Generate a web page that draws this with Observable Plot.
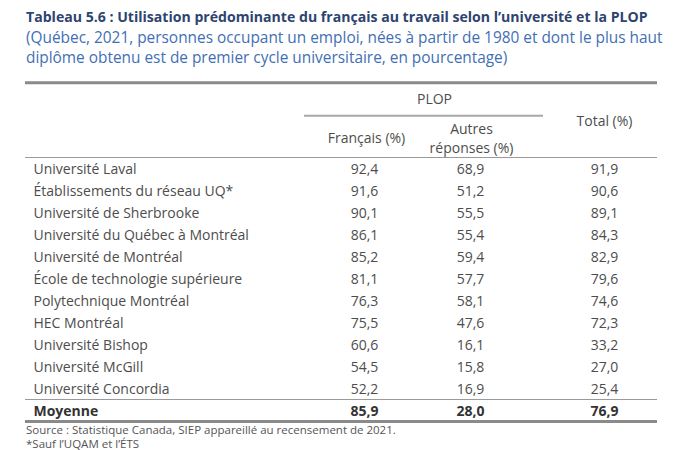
<!DOCTYPE html>
<html>
<head>
<meta charset="utf-8">
<script src="https://cdn.jsdelivr.net/npm/d3@7"></script>
<script src="https://cdn.jsdelivr.net/npm/@observablehq/plot@0.6"></script>
<style>
  html, body { margin: 0; padding: 0; background: #fff; width: 700px; height: 450px; overflow: hidden; position: relative; }
  #title { position: absolute; left: 26px; top: 7px; font: 700 14.1px "Open Sans", sans-serif; line-height: 20px; color: #2e4470; white-space: nowrap; }
  #subtitle { position: absolute; left: 26px; top: 28px; font: 400 15.4px "Open Sans", sans-serif; line-height: 20px; color: #3f6fb4; white-space: nowrap; }
  #chart { position: absolute; left: 0; top: 70px; }
  .cap { position: absolute; left: 26px; font: 400 11.5px "Open Sans", sans-serif; line-height: 14px; color: #555; white-space: nowrap; }
  #source { top: 423px; }
  #note { top: 437px; }
</style>
</head>
<body>
<div id="title"></div>
<div id="subtitle"></div>
<div id="chart"></div>
<div id="source" class="cap"></div>
<div id="note" class="cap"></div>
<script>
const titre = "Tableau 5.6 : Utilisation prédominante du français au travail selon l’université et la PLOP";
const sousTitre = ["(Québec, 2021, personnes occupant un emploi, nées à partir de 1980 et dont le plus haut",
                   "diplôme obtenu est de premier cycle universitaire, en pourcentage)"];
const source = ["Source : Statistique Canada, SIEP appareillé au recensement de 2021.", "*Sauf l’UQAM et l’ÉTS"];

const universites = [
  "Université Laval",
  "Établissements du réseau UQ*",
  "Université de Sherbrooke",
  "Université du Québec à Montréal",
  "Université de Montréal",
  "École de technologie supérieure",
  "Polytechnique Montréal",
  "HEC Montréal",
  "Université Bishop",
  "Université McGill",
  "Université Concordia"
];
const francais = [92.4, 91.6, 90.1, 86.1, 85.2, 81.1, 76.3, 75.5, 60.6, 54.5, 52.2];
const autres   = [68.9, 51.2, 55.5, 55.4, 59.4, 57.7, 58.1, 47.6, 16.1, 15.8, 16.9];
const total    = [91.9, 90.6, 89.1, 84.3, 82.9, 79.6, 74.6, 72.3, 33.2, 27.0, 25.4];
const moyenneLabel = "Moyenne";
const moyenne  = [85.9, 28.0, 76.9];
const enTetes = ["PLOP", "Français (%)", "Autres\nréponses (%)", "Total (%)"];

// layout (positions in pixels / row units)
const L = {
  nameX: 33, frX: 366, auX: 471, toX: 604, plopX: 434,
  left: 25, right: 657, plopLeft: 304, plopRight: 543,
  topRule: -3.4, plopY: -2.62, plopRule: -1.9, totalY: -1.65, frY: -0.86, auY: -0.9
};

document.getElementById("title").textContent = titre;
document.getElementById("subtitle").innerHTML = sousTitre.join("<br>");
document.getElementById("source").textContent = source[0];
document.getElementById("note").textContent = source[1];

const fmt = v => v.toFixed(1).replace(".", ",");
const rows = universites.map((u, i) => ({nom: u, fr: francais[i], au: autres[i], to: total[i], i}));
const moy = [{nom: moyenneLabel, fr: moyenne[0], au: moyenne[1], to: moyenne[2], i: universites.length}];

const txt = {fontFamily: "Open Sans", fontSize: 14, fill: "#4d4d4d"};
const bold = {fontFamily: "Open Sans", fontSize: 14, fill: "#333", fontWeight: "bold"};
const yc = d => d.i + 0.55;

const plot = Plot.plot({
  width: 700,
  height: 355,
  marginTop: 0, marginBottom: 0, marginLeft: 0, marginRight: 0,
  x: {type: "linear", domain: [0, 700], range: [0, 700], axis: null},
  y: {type: "linear", domain: [0, 12], range: [87, 351], axis: null},
  style: {background: "white", overflow: "visible"},
  marks: [
    Plot.ruleY([L.topRule], {x1: L.left, x2: L.right, stroke: "#8a8a8a", strokeWidth: 3}),
    Plot.ruleY([L.plopRule], {x1: L.plopLeft, x2: L.plopRight, stroke: "#a8a8a8", strokeWidth: 2}),
    Plot.ruleY([0, universites.length], {x1: L.left, x2: L.right, stroke: "#9a9a9a", strokeWidth: 1}),
    Plot.ruleY([universites.length + 1], {x1: L.left, x2: L.right, stroke: "#8a8a8a", strokeWidth: 3}),
    Plot.text([enTetes[0]], {x: L.plopX, y: L.plopY, text: d => d, ...txt, textAnchor: "middle"}),
    Plot.text([enTetes[1]], {x: L.frX, y: L.frY, text: d => d, ...txt, textAnchor: "middle"}),
    Plot.text([enTetes[2]], {x: L.auX, y: L.auY, text: d => d, ...txt, textAnchor: "middle", lineHeight: 1.3}),
    Plot.text([enTetes[3]], {x: L.toX, y: L.totalY, text: d => d, ...txt, textAnchor: "middle"}),
    Plot.text(rows, {x: L.nameX, y: yc, text: "nom", ...txt, textAnchor: "start"}),
    Plot.text(rows, {x: L.frX - 2, y: yc, text: d => fmt(d.fr), ...txt, textAnchor: "middle"}),
    Plot.text(rows, {x: L.auX - 1, y: yc, text: d => fmt(d.au), ...txt, textAnchor: "middle"}),
    Plot.text(rows, {x: L.toX, y: yc, text: d => fmt(d.to), ...txt, textAnchor: "middle"}),
    Plot.text(moy, {x: L.nameX, y: yc, text: "nom", ...bold, textAnchor: "start"}),
    Plot.text(moy, {x: L.frX - 2, y: yc, text: d => fmt(d.fr), ...bold, textAnchor: "middle"}),
    Plot.text(moy, {x: L.auX - 1, y: yc, text: d => fmt(d.au), ...bold, textAnchor: "middle"}),
    Plot.text(moy, {x: L.toX, y: yc, text: d => fmt(d.to), ...bold, textAnchor: "middle"})
  ]
});
document.getElementById("chart").appendChild(plot);
</script>
</body>
</html>
